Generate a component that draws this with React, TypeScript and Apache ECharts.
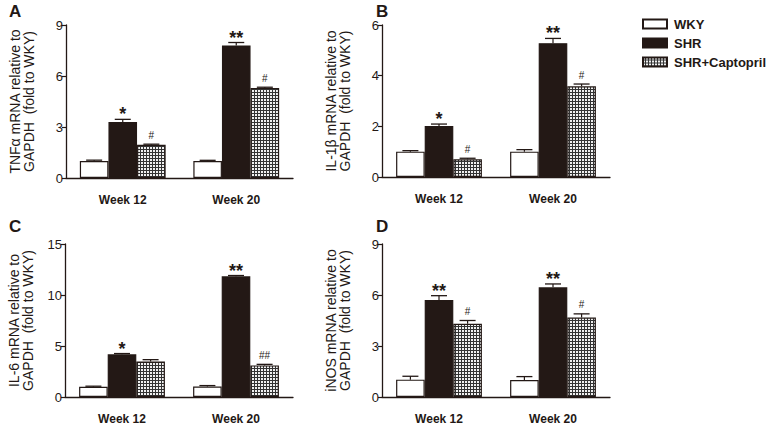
import React, { useEffect, useRef } from "react";
import * as echarts from "echarts";

const categories = ["Week 12", "Week 20"];
const seriesNames = ["WKY", "SHR", "SHR+Captopril"];

// Panel A: TNFα
const tnfWky = [1.0, 1.0];
const tnfWkyErr = [0.05, 0.04];
const tnfShr = [3.3, 7.8];
const tnfShrErr = [0.15, 0.17];
const tnfCap = [1.95, 5.3];
const tnfCapErr = [0.04, 0.04];
const tnfShrMarks = ["*", "**"];
const tnfCapMarks = ["#", "#"];

// Panel B: IL-1β
const il1Wky = [1.0, 1.0];
const il1WkyErr = [0.04, 0.08];
const il1Shr = [2.01, 5.28];
const il1ShrErr = [0.08, 0.19];
const il1Cap = [0.7, 3.58];
const il1CapErr = [0.04, 0.09];
const il1ShrMarks = ["*", "**"];
const il1CapMarks = ["#", "#"];

// Panel C: IL-6
const il6Wky = [1.0, 1.02];
const il6WkyErr = [0.06, 0.1];
const il6Shr = [4.18, 11.83];
const il6ShrErr = [0.08, 0.08];
const il6Cap = [3.48, 3.1];
const il6CapErr = [0.18, 0.1];
const il6ShrMarks = ["*", "**"];
const il6CapMarks = ["", "##"];

// Panel D: iNOS
const inosWky = [1.02, 1.0];
const inosWkyErr = [0.2, 0.2];
const inosShr = [5.7, 6.45];
const inosShrErr = [0.26, 0.2];
const inosCap = [4.31, 4.67];
const inosCapErr = [0.19, 0.22];
const inosShrMarks = ["**", "**"];
const inosCapMarks = ["#", "#"];

const yMaxes = [9, 6, 15, 9];
const yIntervals = [3, 2, 5, 3];
const yTitles = [
  "TNFα mRNA relative to\nGAPDH  (fold to WKY)",
  "IL-1β mRNA relative to\nGAPDH  (fold to WKY)",
  "IL-6 mRNA relative to\nGAPDH  (fold to WKY)",
  "iNOS mRNA relative to\nGAPDH  (fold to WKY)",
];
const panelLetters = ["A", "B", "C", "D"];

const panels = [
  { vals: [tnfWky, tnfShr, tnfCap], errs: [tnfWkyErr, tnfShrErr, tnfCapErr], marks: [["", ""], tnfShrMarks, tnfCapMarks] },
  { vals: [il1Wky, il1Shr, il1Cap], errs: [il1WkyErr, il1ShrErr, il1CapErr], marks: [["", ""], il1ShrMarks, il1CapMarks] },
  { vals: [il6Wky, il6Shr, il6Cap], errs: [il6WkyErr, il6ShrErr, il6CapErr], marks: [["", ""], il6ShrMarks, il6CapMarks] },
  { vals: [inosWky, inosShr, inosCap], errs: [inosWkyErr, inosShrErr, inosCapErr], marks: [["", ""], inosShrMarks, inosCapMarks] },
];

const FONT = "Arial, Helvetica, sans-serif";
const INK = "#231815";
const BAR_W = 28.6;

function makePattern() {
  const c = document.createElement("canvas");
  c.width = 3;
  c.height = 3;
  const ctx = c.getContext("2d")!;
  ctx.fillStyle = "#333333";
  ctx.fillRect(0, 0, 3, 3);
  ctx.fillStyle = "#f0f0f0";
  ctx.fillRect(0, 0, 2, 2);
  return c;
}

export default function App() {
  const ref = useRef<HTMLDivElement>(null);
  useEffect(() => {
    if (!ref.current) return;
    const chart = echarts.init(ref.current, null, { renderer: "svg" });
    const pattern = { image: makePattern(), repeat: "repeat" } as any;

    const grids = [
      { left: 66, top: 25, width: 227, height: 153 },
      { left: 382, top: 25, width: 228, height: 152 },
      { left: 65, top: 244, width: 228, height: 153 },
      { left: 382, top: 244, width: 228, height: 153 },
    ];

    const xAxes: any[] = [];
    const yAxes: any[] = [];
    const series: any[] = [];
    const fills = ["#ffffff", INK, pattern];

    panels.forEach((p, gi) => {
      xAxes.push({
        type: "category",
        gridIndex: gi,
        data: categories,
        axisLine: { lineStyle: { color: INK, width: 1.3 } },
        axisTick: { alignWithLabel: true, length: 5, lineStyle: { color: INK, width: 1.2 } },
        axisLabel: { color: INK, fontFamily: FONT, fontWeight: "bold", fontSize: 12, margin: 16 },
      });
      yAxes.push({
        type: "value",
        gridIndex: gi,
        min: 0,
        max: yMaxes[gi],
        interval: yIntervals[gi],
        name: yTitles[gi],
        nameLocation: "middle",
        nameRotate: 90,
        nameGap: 30,
        nameTextStyle: { color: INK, fontFamily: FONT, fontSize: 14, lineHeight: 14 },
        splitLine: { show: false },
        axisLine: { show: true, lineStyle: { color: INK, width: 1.3 } },
        axisTick: { show: true, length: 4, lineStyle: { color: INK, width: 1.2 } },
        axisLabel: { color: INK, fontFamily: FONT, fontSize: 13, margin: 3 },
      });
      p.vals.forEach((v, si) => {
        series.push({
          type: "bar",
          name: seriesNames[si],
          xAxisIndex: gi,
          yAxisIndex: gi,
          data: v,
          barWidth: BAR_W,
          barGap: "0%",
          itemStyle: { color: fills[si], borderColor: INK, borderWidth: 1.2 },
        });
      });
      const items: any[] = [];
      p.vals.forEach((v, si) => {
        v.forEach((val, ci) => {
          items.push({ value: [ci, val, p.errs[si][ci], si], mark: p.marks[si][ci] });
        });
      });
      series.push({
        type: "custom",
        xAxisIndex: gi,
        yAxisIndex: gi,
        silent: true,
        data: items.map((d) => d.value),
        renderItem: (params: any, api: any) => {
          const ci = api.value(0);
          const v = api.value(1);
          const e = api.value(2);
          const si = api.value(3);
          const base = api.coord([ci, v]);
          const top = api.coord([ci, v + e]);
          const cx = base[0] + (si - 1) * BAR_W;
          const cap = 8;
          const mark = items[params.dataIndex].mark;
          const children: any[] = [
            { type: "line", shape: { x1: cx, y1: base[1], x2: cx, y2: top[1] }, style: { stroke: INK, lineWidth: 1.2 } },
            { type: "line", shape: { x1: cx - cap, y1: top[1], x2: cx + cap, y2: top[1] }, style: { stroke: INK, lineWidth: 1.3 } },
          ];
          if (mark) {
            const isStar = mark.indexOf("*") >= 0;
            children.push({
              type: "text",
              x: cx,
              y: isStar ? top[1] - 5 : top[1] - 9,
              style: {
                text: mark,
                fill: INK,
                fontFamily: FONT,
                fontSize: isStar ? 18 : 10,
                fontWeight: isStar ? "bold" : "normal",
                textAlign: "center",
                textVerticalAlign: "middle",
              },
            });
          }
          return { type: "group", children };
        },
        z: 5,
      });
    });

    chart.setOption({
      animation: false,
      backgroundColor: "#ffffff",
      grid: grids,
      xAxis: xAxes,
      yAxis: yAxes,
      series,
      legend: {
        data: seriesNames,
        orient: "vertical",
        left: 637,
        top: 11,
        icon: "rect",
        itemWidth: 24,
        itemHeight: 9,
        itemGap: 3,
        selectedMode: false,
        textStyle: { color: INK, fontFamily: FONT, fontWeight: "bold", fontSize: 13, lineHeight: 16, padding: [0, 0, 0, 2] },
      },
      graphic: panelLetters.map((t, i) => ({
        type: "text",
        left: i % 2 === 0 ? 9 : 376,
        top: i < 2 ? 3 : 218,
        style: { text: t, fill: INK, fontFamily: FONT, fontSize: 17, fontWeight: "bold", lineHeight: 17 },
      })),
    });
    return () => chart.dispose();
  }, []);
  return (
    <div
      ref={ref}
      style={{ position: "fixed", left: 0, top: 0, width: 779, height: 430, background: "#fff" }}
    />
  );
}
